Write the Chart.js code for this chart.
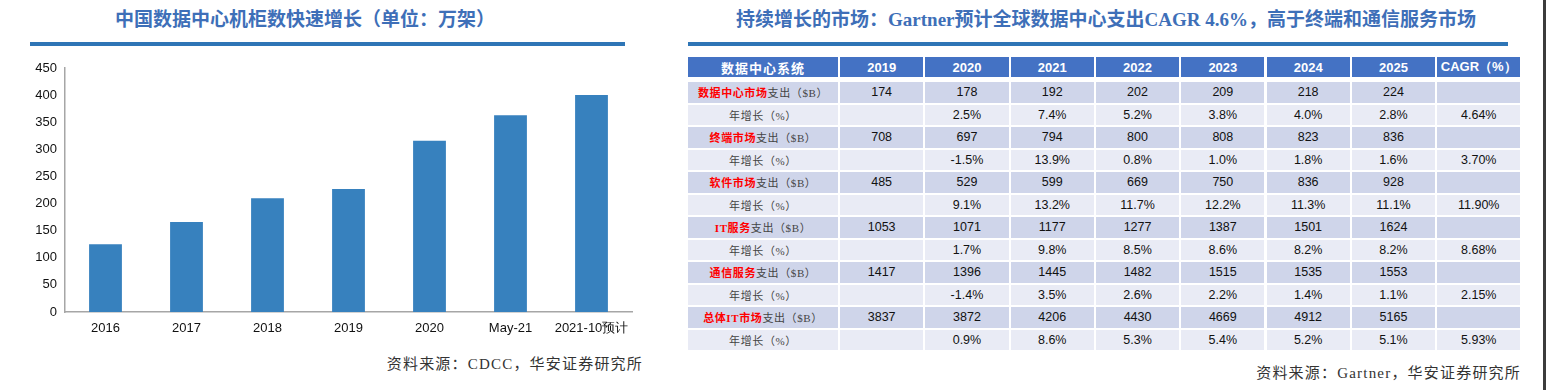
<!DOCTYPE html>
<html>
<head>
<meta charset="utf-8">
<script src="https://cdn.jsdelivr.net/npm/chart.js@4.4.1/dist/chart.umd.min.js"></script>
<style>
  html, body { margin:0; padding:0; background:#fff; }
  body { width:1546px; height:390px; position:relative; overflow:hidden; font-family:"Liberation Sans", Arial, sans-serif; }
  .title { position:absolute; top:6px; height:28px; line-height:28px; font-family:"Liberation Serif","Noto Sans CJK SC",serif; font-weight:700; font-size:19px; color:#3e6fb8; white-space:nowrap; text-align:center; }
  .rule { position:absolute; height:4px; background:#2e75b6; }
  .src { position:absolute; font-family:"Liberation Serif","Noto Sans CJK SC",serif; font-size:15px; letter-spacing:1.2px; color:#333; white-space:nowrap; text-align:right; }
  .cell { position:absolute; display:flex; align-items:center; justify-content:center; white-space:nowrap; box-sizing:border-box; }
  .hd { background:#4472c4; color:#fff; font-weight:700; font-size:13px; }
  .odd { background:#cfd5ea; }
  .even { background:#e9ebf5; }
  .num { font-size:12.5px; color:#111; }
  .lbl { font-family:"Liberation Serif","Noto Sans CJK SC",serif; font-size:11px; color:#444; letter-spacing:0.6px; }
  .red { color:#ff0000; font-weight:700; }
  #wrap { position:absolute; left:0; top:50px; width:660px; height:300px; }
</style>
</head>
<body>
<div class="title" style="left:60px;width:490px;">中国数据中心机柜数快速增长（单位：万架）</div>
<div class="rule" style="left:30px;width:595px;top:42px;"></div>
<div id="wrap"><canvas id="c" width="660" height="300"></canvas></div>
<div class="src" style="left:300px;width:343px;top:352px;">资料来源：CDCC，华安证券研究所</div>

<div class="title" style="left:700px;width:812px;">持续增长的市场：Gartner预计全球数据中心支出CAGR 4.6%，高于终端和通信服务市场</div>
<div class="rule" style="left:688px;width:820px;top:42px;"></div>
<div id="table"></div>
<div class="src" style="left:1150px;width:371px;top:361px;">资料来源：Gartner，华安证券研究所</div>
<div style="position:absolute;left:1543px;top:0;width:3px;height:390px;background:#3c3c3c;"></div>

<script>
// ---- Left chart data ----
const rackCategories = ['2016','2017','2018','2019','2020','May-21','2021-10预计'];
const rackValues = [125, 166, 210, 227, 316, 363, 400];

// ---- Right table data ----
const tableHeaderFirst = '数据中心系统';
const tableYears = ['2019','2020','2021','2022','2023','2024','2025'];
const tableCagrHeader = 'CAGR（%）';
const marketNames = ['数据中心市场','终端市场','软件市场','IT服务','通信服务','总体IT市场'];
const spendSuffix = '支出（$B）';
const growthLabel = '年增长（%）';
const dcSpend = [174,178,192,202,209,218,224];
const terminalSpend = [708,697,794,800,808,823,836];
const softwareSpend = [485,529,599,669,750,836,928];
const itServiceSpend = [1053,1071,1177,1277,1387,1501,1624];
const telecomSpend = [1417,1396,1445,1482,1515,1535,1553];
const totalSpend = [3837,3872,4206,4430,4669,4912,5165];
const dcGrowth = ['','2.5%','7.4%','5.2%','3.8%','4.0%','2.8%'];
const terminalGrowth = ['','-1.5%','13.9%','0.8%','1.0%','1.8%','1.6%'];
const softwareGrowth = ['','9.1%','13.2%','11.7%','12.2%','11.3%','11.1%'];
const itServiceGrowth = ['','1.7%','9.8%','8.5%','8.6%','8.2%','8.2%'];
const telecomGrowth = ['','-1.4%','3.5%','2.6%','2.2%','1.4%','1.1%'];
const totalGrowth = ['','0.9%','8.6%','5.3%','5.4%','5.2%','5.1%'];
const cagrValues = ['4.64%','3.70%','11.90%','8.68%','2.15%','5.93%'];

const spends = [dcSpend, terminalSpend, softwareSpend, itServiceSpend, telecomSpend, totalSpend];
const growths = [dcGrowth, terminalGrowth, softwareGrowth, itServiceGrowth, telecomGrowth, totalGrowth];

// ---- Build table ----
(function(){
  const t = document.getElementById('table');
  const firstX = 688, firstW = 150, colX0 = 840, colPitch = 85.3, colW = 83.3;
  function add(x, y, w, h, cls, html){
    const d = document.createElement('div');
    d.className = 'cell ' + cls;
    d.style.left = x + 'px'; d.style.top = y + 'px';
    d.style.width = w + 'px'; d.style.height = h + 'px';
    d.innerHTML = html;
    t.appendChild(d);
  }
  const hy = 57, hh = 20;
  add(firstX, hy, firstW, hh, 'hd', '<span style="font-family:\'Noto Sans CJK SC\';letter-spacing:1px">' + tableHeaderFirst + '</span>');
  tableYears.forEach((y, i) => add(colX0 + i*colPitch, hy, colW, hh, 'hd', y));
  add(colX0 + 7*colPitch, hy, colW, hh, 'hd', tableCagrHeader);

  const rowY0 = 82, rowPitch = 22.5, rowH = 20.5;
  marketNames.forEach((name, m) => {
    const y1 = rowY0 + (2*m)*rowPitch;
    const y2 = rowY0 + (2*m+1)*rowPitch;
    add(firstX, y1, firstW, rowH, 'odd lbl', '<span class="red">' + name + '</span>' + spendSuffix);
    spends[m].forEach((v, i) => add(colX0 + i*colPitch, y1, colW, rowH, 'odd num', String(v)));
    add(colX0 + 7*colPitch, y1, colW, rowH, 'odd num', '');
    add(firstX, y2, firstW, rowH, 'even lbl', growthLabel);
    growths[m].forEach((v, i) => add(colX0 + i*colPitch, y2, colW, rowH, 'even num', v));
    add(colX0 + 7*colPitch, y2, colW, rowH, 'even num', cagrValues[m]);
  });
})();

// ---- Chart ----
new Chart(document.getElementById('c'), {
  type: 'bar',
  data: {
    labels: rackCategories,
    datasets: [{
      data: rackValues,
      backgroundColor: '#3781be',
      borderWidth: 0,
      categoryPercentage: 1,
      barPercentage: 0.405
    }]
  },
  options: {
    responsive: false,
    animation: false,
    layout: { padding: { top: 18, right: 28, left: 0, bottom: 0 } },
    plugins: { legend: { display: false }, tooltip: { enabled: false } },
    scales: {
      x: {
        grid: { display: false, drawTicks: false },
        border: { display: true, color: '#a6a6a6', width: 1.5 },
        ticks: { color: '#111', font: { family: "'Liberation Sans', Arial, sans-serif", size: 13 }, padding: 9, maxRotation: 0 },
        afterFit: (s) => { s.height = 38; }
      },
      y: {
        min: 0, max: 450,
        grid: { display: false, drawTicks: false },
        border: { display: true, color: '#a6a6a6', width: 1.5 },
        ticks: { stepSize: 50, color: '#111', font: { family: "'Liberation Sans', Arial, sans-serif", size: 13 }, padding: 8 },
        afterFit: (s) => { s.width = 65; }
      }
    }
  }
});
</script>
</body>
</html>
